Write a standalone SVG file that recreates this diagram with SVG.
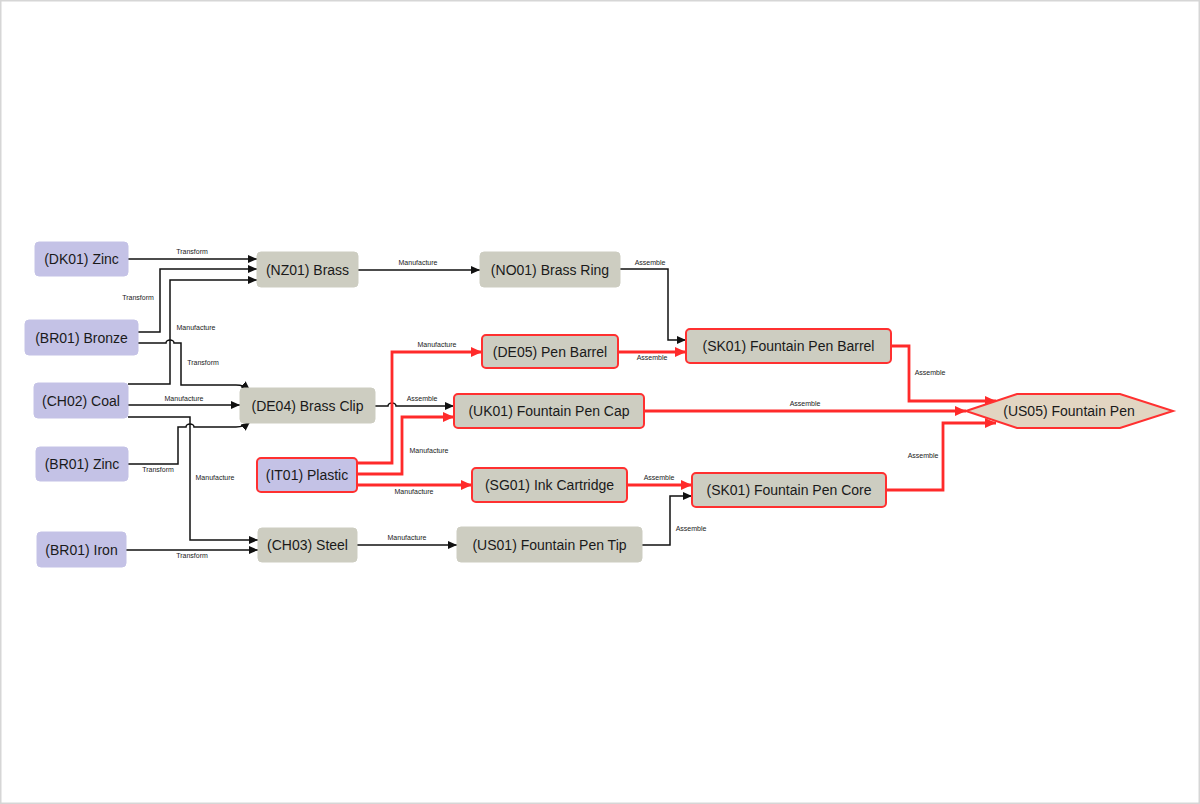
<svg xmlns="http://www.w3.org/2000/svg" width="1200" height="804" viewBox="0 0 1200 804">
<style>
.frame{fill:#ffffff;stroke:#d6d6d6;stroke-width:1.5}
.src{fill:#c4c2e6;stroke:#c4c2e6;stroke-width:1}
.mid{fill:#cdcdc1;stroke:#cdcdc1;stroke-width:1}
.hot{stroke:#ff3030;stroke-width:2}
.nt{font-family:"Liberation Sans",Arial,sans-serif;font-size:14px;fill:#1a1a1a;text-anchor:middle;dominant-baseline:central}
.lb{font-family:"Liberation Sans",Arial,sans-serif;font-size:7px;fill:#222;text-anchor:middle}
.k{fill:none;stroke:#111;stroke-width:1.5;marker-end:url(#ak)}
.r{fill:none;stroke:#ff2a2a;stroke-width:2.8;marker-end:url(#ar)}
</style>
<defs>
<marker id="ak" markerUnits="userSpaceOnUse" markerWidth="10" markerHeight="8" refX="9" refY="4" orient="auto"><path d="M0,0 L9,4 L0,8 z" fill="#111"/></marker>
<marker id="ar" markerUnits="userSpaceOnUse" markerWidth="12" markerHeight="10" refX="11" refY="5" orient="auto"><path d="M0,0 L11,5 L0,10 z" fill="#ff2a2a"/></marker>
</defs>
<rect class="frame" x="0.75" y="0.75" width="1198.5" height="802.5"/>
<g id="connectors">
<path class="k" d="M128,259 L257,259"/>
<text class="lb" x="192" y="254">Transform</text>
<path class="k" d="M138,332 L160,332 L160,269 L257,269"/>
<text class="lb" x="138" y="300">Transform</text>
<path class="k" d="M128,384 L170,384 L170,280 L257,280"/>
<text class="lb" x="196" y="330">Manufacture</text>
<path class="k" d="M138,343 L166,343 A4,3 0 0 1 174,343 L181,343 L181,385 L236,385 Q244,385 250,390"/>
<text class="lb" x="203" y="365">Transform</text>
<path class="k" d="M128,405 L240,405"/>
<text class="lb" x="184" y="401">Manufacture</text>
<path class="k" d="M128,417 L190,417 L190,540 L258,540"/>
<text class="lb" x="215" y="480">Manufacture</text>
<path class="k" d="M128,464 L178,464 L178,427 L186,427 A4,3 0 0 1 194,427 L236,427 Q244,427 250,422"/>
<text class="lb" x="158" y="472">Transform</text>
<path class="k" d="M126,550 L258,550"/>
<text class="lb" x="192" y="558">Transform</text>
<path class="k" d="M358,270 L480,270"/>
<text class="lb" x="418" y="265">Manufacture</text>
<path class="k" d="M620,269 L668,269 L668,340 L686,340"/>
<text class="lb" x="650" y="265">Assemble</text>
<path class="k" d="M375,406 L388,406 A4,3 0 0 1 396,406 L454,406"/>
<text class="lb" x="422" y="401">Assemble</text>
<path class="k" d="M357,545 L457,545"/>
<text class="lb" x="407" y="540">Manufacture</text>
<path class="k" d="M642,545 L670,545 L670,496 L692,496"/>
<text class="lb" x="691" y="531">Assemble</text>
<path class="r" d="M357,463 L392,463 L392,352 L482,352"/>
<text class="lb" x="437" y="347">Manufacture</text>
<path class="r" d="M357,474 L402,474 L402,417 L454,417"/>
<text class="lb" x="429" y="453">Manufacture</text>
<path class="r" d="M357,485 L472,485"/>
<text class="lb" x="414" y="494">Manufacture</text>
<path class="r" d="M618,352 L686,352"/>
<text class="lb" x="652" y="360">Assemble</text>
<path class="r" d="M644,411 L966,411"/>
<text class="lb" x="805" y="406">Assemble</text>
<path class="r" d="M627,485 L692,485"/>
<text class="lb" x="659" y="480">Assemble</text>
<path class="r" d="M891,346 L909,346 L909,401 L996,401"/>
<text class="lb" x="930" y="375">Assemble</text>
<path class="r" d="M886,490 L943,490 L943,423 L996,423"/>
<text class="lb" x="923" y="458">Assemble</text>
</g>
<g id="n_dk01"><rect class="src" x="35" y="242" width="93" height="34" rx="4"/><text class="nt" x="81.5" y="259">(DK01) Zinc</text></g>
<g id="n_br01_bronze"><rect class="src" x="25" y="320" width="113" height="35" rx="4"/><text class="nt" x="81.5" y="337.5">(BR01) Bronze</text></g>
<g id="n_ch02"><rect class="src" x="34" y="383" width="94" height="35" rx="4"/><text class="nt" x="81" y="400.5">(CH02) Coal</text></g>
<g id="n_br01_zinc"><rect class="src" x="36" y="447" width="92" height="34" rx="4"/><text class="nt" x="82" y="464">(BR01) Zinc</text></g>
<g id="n_br01_iron"><rect class="src" x="37" y="532" width="89" height="35" rx="4"/><text class="nt" x="81.5" y="549.5">(BR01) Iron</text></g>
<g id="n_nz01"><rect class="mid" x="257" y="252" width="101" height="35" rx="4"/><text class="nt" x="307.5" y="269.5">(NZ01) Brass</text></g>
<g id="n_no01"><rect class="mid" x="480" y="252" width="140" height="35" rx="4"/><text class="nt" x="550" y="269.5">(NO01) Brass Ring</text></g>
<g id="n_de04"><rect class="mid" x="240" y="388" width="135" height="35" rx="4"/><text class="nt" x="307.5" y="405.5">(DE04) Brass Clip</text></g>
<g id="n_it01"><rect class="src hot" x="257" y="458" width="100" height="34" rx="4"/><text class="nt" x="307" y="475">(IT01) Plastic</text></g>
<g id="n_ch03"><rect class="mid" x="258" y="528" width="99" height="34" rx="4"/><text class="nt" x="307.5" y="545">(CH03) Steel</text></g>
<g id="n_de05"><rect class="mid hot" x="482" y="335" width="136" height="33" rx="4"/><text class="nt" x="550" y="351.5">(DE05) Pen Barrel</text></g>
<g id="n_uk01"><rect class="mid hot" x="454" y="394" width="190" height="34" rx="4"/><text class="nt" x="549" y="411">(UK01) Fountain Pen Cap</text></g>
<g id="n_sg01"><rect class="mid hot" x="472" y="468" width="155" height="34" rx="4"/><text class="nt" x="549.5" y="485">(SG01) Ink Cartridge</text></g>
<g id="n_us01"><rect class="mid" x="457" y="527" width="185" height="35" rx="4"/><text class="nt" x="549.5" y="544.5">(US01) Fountain Pen Tip</text></g>
<g id="n_sk01_barrel"><rect class="mid hot" x="686" y="329" width="205" height="34" rx="4"/><text class="nt" x="788.5" y="346">(SK01) Fountain Pen Barrel</text></g>
<g id="n_sk01_core"><rect class="mid hot" x="692" y="473" width="194" height="34" rx="4"/><text class="nt" x="789" y="490">(SK01) Fountain Pen Core</text></g>
<g id="n_us05"><polygon points="966,411 1017,394 1120,394 1173,411 1120,428 1017,428" fill="#e2d5c2" stroke="#ff3030" stroke-width="2"/><text class="nt" x="1069" y="411">(US05) Fountain Pen</text></g>
</svg>
